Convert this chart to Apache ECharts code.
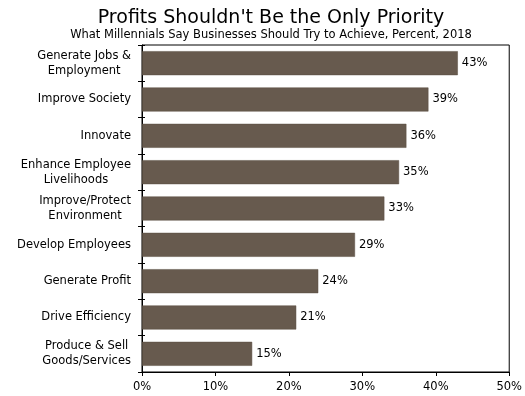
<!DOCTYPE html>
<html>
<head>
<meta charset="utf-8">
<script src="https://cdn.jsdelivr.net/npm/echarts@6/dist/echarts.min.js"></script>
<style>
  html, body { margin: 0; padding: 0; background: #fff; }
  #chart { width: 525px; height: 396px; }
</style>
</head>
<body>
<div id="chart"></div>
<script>
// Goals, listed bottom to top as the category axis draws them
const categories = [
  'Produce & Sell\nGoods/Services',
  'Drive Efficiency',
  'Generate Profit',
  'Develop Employees',
  'Improve/Protect\nEnvironment',
  'Enhance Employee\nLivelihoods',
  'Innovate',
  'Improve Society',
  'Generate Jobs &\nEmployment'
];
const values = [15, 21, 24, 29, 33, 35, 36, 39, 43];
const xTicks = [0, 10, 20, 30, 40, 50];

const FONT = 'DejaVu Sans, Verdana, sans-serif';
const chart = echarts.init(document.getElementById('chart'));

// Two-line labels: block stays right of the axis, each line centred within it
const centredLines = v => v.split('\n').map(s => '{c|' + s + '}').join('\n');

chart.setOption({
  animation: false,
  title: {
    text: "Profits Shouldn't Be the Only Priority",
    subtext: 'What Millennials Say Businesses Should Try to Achieve, Percent, 2018',
    left: 266,
    textAlign: 'center',
    top: 4,
    itemGap: 1,
    textStyle: { fontFamily: FONT, fontSize: 19, fontWeight: 'normal', color: '#000' },
    subtextStyle: { fontFamily: FONT, fontSize: 11.5, color: '#000' }
  },
  grid: {
    left: 142, right: 11, top: 45, bottom: 24,
    show: true, borderColor: '#000', borderWidth: 1, backgroundColor: 'transparent'
  },
  xAxis: {
    type: 'value',
    min: xTicks[0], max: xTicks[xTicks.length - 1], interval: 10,
    splitLine: { show: false },
    axisLine: { show: true, lineStyle: { color: '#000' } },
    axisTick: { show: true, length: 4, lineStyle: { color: '#000' } },
    axisLabel: { fontFamily: FONT, fontSize: 11.5, color: '#000', margin: 9, formatter: v => v + '%' }
  },
  yAxis: [{
    type: 'category',
    data: categories,
    axisLine: { show: true, lineStyle: { color: '#000' } },
    axisTick: { show: true, length: 4, lineStyle: { color: '#000' } },
    axisLabel: {
      fontFamily: FONT, fontSize: 11.5, color: '#000', margin: 11, lineHeight: 15, align: 'right',
      formatter: centredLines,
      rich: { c: { align: 'center', fontFamily: FONT, fontSize: 11.5, color: '#000', lineHeight: 15 } }
    }
  }, {
    // inner half of the category separators
    type: 'category',
    data: categories,
    position: 'left',
    axisLine: { show: false },
    axisTick: { show: true, inside: true, length: 3, lineStyle: { color: '#000' } },
    axisLabel: { show: false }
  }],
  series: [{
    type: 'bar',
    data: values,
    barWidth: '66%',
    itemStyle: { color: '#675a4e', borderColor: '#5a4e43', borderWidth: 0.5 },
    label: {
      show: true, position: 'right', distance: 4,
      fontFamily: FONT, fontSize: 11.5, color: '#000',
      formatter: p => p.value + '%'
    }
  }]
});
</script>
</body>
</html>
